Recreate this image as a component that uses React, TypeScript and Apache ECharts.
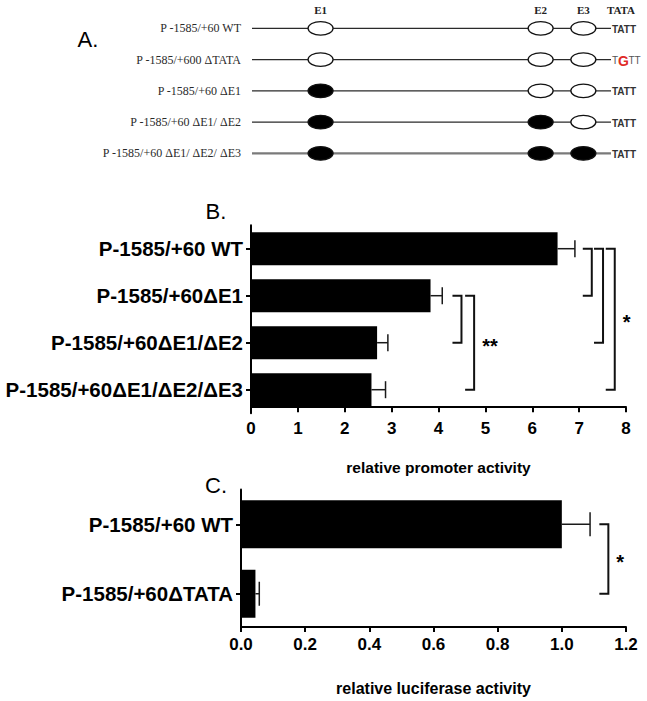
import React, { useEffect, useRef } from 'react';
import * as echarts from 'echarts';

// ---------- Panel A: promoter constructs ----------
const constructLabels = [
  'P -1585/+60 WT',
  'P -1585/+600 ΔTATA',
  'P -1585/+60 ΔE1',
  'P -1585/+60 ΔE1/ ΔE2',
  'P -1585/+60 ΔE1/ ΔE2/ ΔE3',
];
const elementNames = ['E1', 'E2', 'E3'];
// schematic positions of the E-boxes along the construct (0 = 5' end, 100 = TATA box)
const elementPositions = [19.1, 80.4, 92.3];
const e1Deleted = [0, 0, 1, 1, 1];
const e2Deleted = [0, 0, 0, 1, 1];
const e3Deleted = [0, 0, 0, 0, 1];
const tataMutated = [0, 1, 0, 0, 0];

// ---------- Panel B: relative promoter activity ----------
const promoterCategories = [
  'P-1585/+60 WT',
  'P-1585/+60ΔE1',
  'P-1585/+60ΔE1/ΔE2',
  'P-1585/+60ΔE1/ΔE2/ΔE3',
];
const promoterMeans = [6.54, 3.83, 2.69, 2.57];
const promoterSem = [0.37, 0.25, 0.23, 0.3];
const promoterTicks = [0, 1, 2, 3, 4, 5, 6, 7, 8];
const promoterBracketFrom = [0, 0, 0, 1, 1];
const promoterBracketTo = [1, 2, 3, 2, 3];
const promoterBracketX = [7.27, 7.51, 7.76, 4.49, 4.76];
const promoterBracketLabels = ['', '', '*', '', '**'];

// ---------- Panel C: relative luciferase activity ----------
const luciferaseCategories = ['P-1585/+60 WT', 'P-1585/+60ΔTATA'];
const luciferaseMeans = [1.0, 0.045];
const luciferaseSem = [0.088, 0.012];
const luciferaseTicks = [0, 0.2, 0.4, 0.6, 0.8, 1.0, 1.2];
const luciferaseBracketFrom = [0];
const luciferaseBracketTo = [1];
const luciferaseBracketX = [1.145];
const luciferaseBracketLabels = ['*'];

const SANS = '"Liberation Sans", Arial, Helvetica, sans-serif';
const SERIF = '"Liberation Serif", "Times New Roman", serif';

function txt(style: any) {
  return {
    ...style,
    textFill: style.fill,
    align: style.align,
    textAlign: style.align,
    verticalAlign: style.verticalAlign,
    textVerticalAlign: style.verticalAlign,
  };
}

function errorRender(capHeight: number) {
  return (params: any, api: any) => {
    const mean = api.value(0);
    const cat = api.value(1);
    const upper = api.value(2);
    const p0 = api.coord([mean, cat]);
    const p1 = api.coord([upper, cat]);
    const ls = { stroke: '#1a1a1a', lineWidth: 1.5 };
    return {
      type: 'group',
      children: [
        { type: 'line', shape: { x1: p0[0], y1: p0[1], x2: p1[0], y2: p1[1] }, style: ls },
        { type: 'line', shape: { x1: p1[0], y1: p1[1] - capHeight / 2, x2: p1[0], y2: p1[1] + capHeight / 2 }, style: ls },
      ],
    };
  };
}

function bracketRender(labels: string[]) {
  return (params: any, api: any) => {
    const x = api.value(0);
    const from = api.value(1);
    const to = api.value(2);
    const a = api.coord([x, from]);
    const b = api.coord([x, to]);
    const tick = 9;
    const children: any[] = [
      {
        type: 'polyline',
        shape: { points: [[a[0] - tick, a[1]], [a[0], a[1]], [b[0], b[1]], [b[0] - tick, b[1]]] },
        style: { stroke: '#111', lineWidth: 2, fill: null },
      },
    ];
    const label = labels[params.dataIndex];
    if (label) {
      children.push({
        type: 'text',
        x: a[0] + 8,
        y: (a[1] + b[1]) / 2 + 3,
        style: txt({ text: label, fill: '#000', fontSize: 20, fontWeight: 'bold', fontFamily: SANS, align: 'left', verticalAlign: 'middle' }),
      });
    }
    return { type: 'group', children };
  };
}

function constructRender(params: any, api: any) {
  const idx = params.dataIndex;
  const row = api.value(1);
  const start = api.coord([api.value(0), row]);
  const end = api.coord([api.value(2), row]);
  const y = start[1];
  const last = idx === constructLabels.length - 1;
  const children: any[] = [
    {
      type: 'line',
      shape: { x1: start[0], y1: y, x2: end[0], y2: y },
      style: { stroke: last ? '#7a7a7a' : '#2a2a2a', lineWidth: last ? 2.4 : 1.3 },
    },
  ];
  const deleted = [e1Deleted[idx], e2Deleted[idx], e3Deleted[idx]];
  elementPositions.forEach((pos, j) => {
    const cx = api.coord([pos, row])[0];
    children.push({
      type: 'ellipse',
      shape: { cx, cy: y, rx: 12.5, ry: 6.8 },
      style: { fill: deleted[j] ? '#000' : '#fff', stroke: '#111', lineWidth: 1.3 },
    });
    if (idx === 0) {
      children.push({
        type: 'text',
        x: cx,
        y: y - 18,
        style: txt({ text: elementNames[j], fill: '#222', fontSize: 11, fontWeight: 'bold', fontFamily: SERIF, align: 'center', verticalAlign: 'middle' }),
      });
    }
  });
  if (idx === 0) {
    children.push({
      type: 'text',
      x: end[0] + 10,
      y: y - 18,
      style: txt({ text: 'TATA', fill: '#222', fontSize: 11, fontWeight: 'bold', fontFamily: SERIF, align: 'center', verticalAlign: 'middle' }),
    });
  }
  if (tataMutated[idx]) {
    const base = { fontSize: 10, fontFamily: SANS, fill: '#555', align: 'left', verticalAlign: 'middle' };
    children.push(
      { type: 'text', x: end[0] + 1, y: y + 1, style: txt({ ...base, text: 'T' }) },
      { type: 'text', x: end[0] + 7, y: y + 1, style: txt({ ...base, text: 'G', fontSize: 14, fontWeight: 'bold', fill: '#e02b27' }) },
      { type: 'text', x: end[0] + 17.5, y: y + 1, style: txt({ ...base, text: 'TT' }) },
    );
  } else {
    children.push({
      type: 'text',
      x: end[0] + 1,
      y: y + 1,
      style: txt({ text: 'TATT', fill: '#333', fontSize: 10, fontWeight: 'bold', fontFamily: SANS, align: 'left', verticalAlign: 'middle' }),
    });
  }
  return { type: 'group', children };
}

const axisLineStyle = { color: '#000', width: 2 };

export default function App() {
  const ref = useRef<HTMLDivElement>(null);

  useEffect(() => {
    const chart = echarts.init(ref.current!, null, { renderer: 'svg' });
    const option: any = {
      animation: false,
      backgroundColor: '#fff',
      graphic: [
        { type: 'text', x: 88, y: 39, style: txt({ text: 'A.', fill: '#000', fontSize: 22, fontFamily: SANS, align: 'center', verticalAlign: 'middle' }) },
        { type: 'text', x: 216, y: 211, style: txt({ text: 'B.', fill: '#000', fontSize: 22, fontFamily: SANS, align: 'center', verticalAlign: 'middle' }) },
        { type: 'text', x: 216, y: 485, style: txt({ text: 'C.', fill: '#000', fontSize: 22, fontFamily: SANS, align: 'center', verticalAlign: 'middle' }) },
      ],
      grid: [
        { left: 252, top: 12.7, width: 359, height: 156.3, containLabel: false, outerBoundsMode: 'none' },
        { left: 251, top: 225.2, width: 375, height: 188, containLabel: false, outerBoundsMode: 'none' },
        { left: 241, top: 489.5, width: 385, height: 139, containLabel: false, outerBoundsMode: 'none' },
      ],
      xAxis: [
        { gridIndex: 0, type: 'value', min: 0, max: 100, show: false },
        {
          gridIndex: 1,
          type: 'value',
          min: promoterTicks[0],
          max: promoterTicks[promoterTicks.length - 1],
          interval: 1,
          offset: -6,
          axisLine: { show: true, onZero: false, lineStyle: axisLineStyle },
          axisTick: { show: true, length: 5, lineStyle: axisLineStyle },
          axisLabel: { margin: 13, fontSize: 17, fontWeight: 'bold', color: '#000', fontFamily: SANS },
          splitLine: { show: false },
          name: 'relative promoter activity',
          nameLocation: 'middle',
          nameGap: 52,
          nameTextStyle: { fontSize: 15.5, fontWeight: 'bold', color: '#000', fontFamily: SANS },
        },
        {
          gridIndex: 2,
          type: 'value',
          min: luciferaseTicks[0],
          max: luciferaseTicks[luciferaseTicks.length - 1],
          interval: 0.2,
          offset: -1.5,
          axisLine: { show: true, onZero: false, lineStyle: axisLineStyle },
          axisTick: { show: true, length: 5, lineStyle: axisLineStyle },
          axisLabel: { margin: 9, fontSize: 17, fontWeight: 'bold', color: '#000', fontFamily: SANS, formatter: (v: number) => v.toFixed(1) },
          splitLine: { show: false },
          name: 'relative luciferase activity',
          nameLocation: 'middle',
          nameGap: 53,
          nameTextStyle: { fontSize: 16, fontWeight: 'bold', color: '#000', fontFamily: SANS },
        },
      ],
      yAxis: [
        {
          gridIndex: 0,
          type: 'category',
          inverse: true,
          data: constructLabels,
          axisLine: { show: false },
          axisTick: { show: false },
          splitLine: { show: false },
          axisLabel: { interval: 0, margin: 11, fontSize: 12, color: '#2a2a2a', fontFamily: SERIF },
        },
        {
          gridIndex: 1,
          type: 'category',
          inverse: true,
          data: promoterCategories,
          axisLine: { show: true, onZero: false, lineStyle: axisLineStyle },
          axisTick: { show: true, length: 5, alignWithLabel: true, interval: 0, lineStyle: axisLineStyle },
          splitLine: { show: false },
          axisLabel: { interval: 0, margin: 8, fontSize: 20.5, fontWeight: 'bold', color: '#000', fontFamily: SANS },
        },
        {
          gridIndex: 2,
          type: 'category',
          inverse: true,
          data: luciferaseCategories,
          axisLine: { show: true, onZero: false, lineStyle: axisLineStyle },
          axisTick: { show: true, length: 5, alignWithLabel: true, interval: 0, lineStyle: axisLineStyle },
          splitLine: { show: false },
          axisLabel: { interval: 0, margin: 8, fontSize: 20.5, fontWeight: 'bold', color: '#000', fontFamily: SANS },
        },
      ],
      series: [
        {
          type: 'custom',
          xAxisIndex: 0,
          yAxisIndex: 0,
          silent: true,
          clip: false,
          encode: { x: [0, 2], y: 1 },
          data: constructLabels.map((_, i) => [0, i, 100]),
          renderItem: constructRender,
        },
        {
          type: 'bar',
          xAxisIndex: 1,
          yAxisIndex: 1,
          silent: true,
          barWidth: 33,
          itemStyle: { color: '#000' },
          data: promoterMeans,
        },
        {
          type: 'custom',
          xAxisIndex: 1,
          yAxisIndex: 1,
          silent: true,
          clip: false,
          encode: { x: [0, 2], y: 1 },
          data: promoterMeans.map((m, i) => [m, i, m + promoterSem[i]]),
          renderItem: errorRender(17),
        },
        {
          type: 'custom',
          xAxisIndex: 1,
          yAxisIndex: 1,
          silent: true,
          clip: false,
          encode: { x: 0, y: [1, 2] },
          data: promoterBracketX.map((x, i) => [x, promoterBracketFrom[i], promoterBracketTo[i]]),
          renderItem: bracketRender(promoterBracketLabels),
        },
        {
          type: 'bar',
          xAxisIndex: 2,
          yAxisIndex: 2,
          silent: true,
          barWidth: 48,
          itemStyle: { color: '#000' },
          data: luciferaseMeans,
        },
        {
          type: 'custom',
          xAxisIndex: 2,
          yAxisIndex: 2,
          silent: true,
          clip: false,
          encode: { x: [0, 2], y: 1 },
          data: luciferaseMeans.map((m, i) => [m, i, m + luciferaseSem[i]]),
          renderItem: errorRender(24),
        },
        {
          type: 'custom',
          xAxisIndex: 2,
          yAxisIndex: 2,
          silent: true,
          clip: false,
          encode: { x: 0, y: [1, 2] },
          data: luciferaseBracketX.map((x, i) => [x, luciferaseBracketFrom[i], luciferaseBracketTo[i]]),
          renderItem: bracketRender(luciferaseBracketLabels),
        },
      ],
    };
    chart.setOption(option);
    return () => chart.dispose();
  }, []);

  return (
    <div
      ref={ref}
      style={{ position: 'fixed', left: 0, top: 0, width: 647, height: 701, background: '#fff' }}
    />
  );
}
